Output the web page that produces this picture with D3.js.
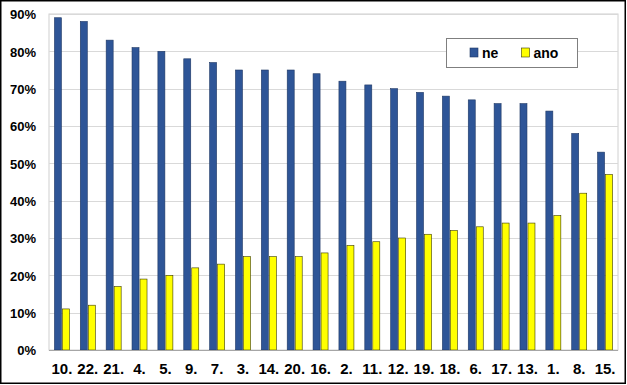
<!DOCTYPE html>
<html>
<head>
<meta charset="utf-8">
<script src="https://cdn.jsdelivr.net/npm/d3@7"></script>
<style>
body { margin: 0; background: #fff; }
text { font-family: "Liberation Sans", Arial, sans-serif; font-weight: bold; fill: #000; }
</style>
</head>
<body>
<script>
var width = 627, height = 385;

var categories = ["10.", "22.", "21.", "4.", "5.", "9.", "7.", "3.", "14.", "20.", "16.",
  "2.", "11.", "12.", "19.", "18.", "6.", "17.", "13.", "1.", "8.", "15."];
var ne  = [89, 88, 83, 81, 80, 78, 77, 75, 75, 75, 74, 72, 71, 70, 69, 68, 67, 66, 66, 64, 58, 53];
var ano = [11, 12, 17, 19, 20, 22, 23, 25, 25, 25, 26, 28, 29, 30, 31, 32, 33, 34, 34, 36, 42, 47];
var yTicks = [0, 10, 20, 30, 40, 50, 60, 70, 80, 90];
var seriesNames = ["ne", "ano"];
var colors = {ne: "#2E5597", ano: "#FFFF00"};
var strokes = {ne: "#1F3864", ano: "#3a3a00"};

var svg = d3.select("body").append("svg")
    .attr("width", width)
    .attr("height", height);

// outer frame
svg.append("rect")
    .attr("x", 0.75).attr("y", 0.75)
    .attr("width", width - 2.5).attr("height", height - 2.5)
    .attr("fill", "#fff")
    .attr("stroke", "#000").attr("stroke-width", 1.5);

var plotL = 49, plotR = 618, plotT = 14, plotB = 350;

var x = d3.scaleBand().domain(categories).range([plotL, plotR]).paddingInner(0).paddingOuter(0);
var y = d3.scaleLinear().domain([0, 90]).range([plotB, plotT]);
var bw = 7, gap = 0.5;

// plot area border
svg.append("rect")
    .attr("x", plotL).attr("y", plotT)
    .attr("width", plotR - plotL).attr("height", plotB - plotT)
    .attr("fill", "none").attr("stroke", "#d0d0d0");

// gridlines
svg.append("g").selectAll("line")
    .data(yTicks.slice(1))
    .join("line")
    .attr("x1", plotL).attr("x2", plotR)
    .attr("y1", d => Math.round(y(d)) + 0.5).attr("y2", d => Math.round(y(d)) + 0.5)
    .attr("stroke", "#d9d9d9");

// y axis
var yAxis = svg.append("g")
    .attr("transform", "translate(" + plotL + ",0)")
    .call(d3.axisLeft(y).tickValues(yTicks).tickSize(0).tickPadding(13).tickFormat(d => d + "%"));
yAxis.select(".domain").remove();
yAxis.selectAll("text").style("font-size", "13px").attr("dy", "0.36em");

// bars
var groups = svg.append("g").selectAll("g")
    .data(categories)
    .join("g")
    .attr("transform", d => "translate(" + (x(d) + x.bandwidth() / 2) + ",0)");

groups.append("rect")
    .attr("x", -bw - gap)
    .attr("y", (d, i) => y(ne[i]))
    .attr("width", bw)
    .attr("height", (d, i) => plotB - y(ne[i]))
    .attr("fill", colors.ne)
    .attr("stroke", strokes.ne).attr("stroke-width", 0.6);

groups.append("rect")
    .attr("x", gap)
    .attr("y", (d, i) => y(ano[i]))
    .attr("width", bw)
    .attr("height", (d, i) => plotB - y(ano[i]))
    .attr("fill", colors.ano)
    .attr("stroke", strokes.ano).attr("stroke-width", 0.6);

// baseline
svg.append("line")
    .attr("x1", plotL).attr("x2", plotR)
    .attr("y1", plotB + 0.5).attr("y2", plotB + 0.5)
    .attr("stroke", "#a6a6a6");

// x axis labels
var xAxis = svg.append("g")
    .attr("transform", "translate(0," + plotB + ")")
    .call(d3.axisBottom(x).tickSize(0).tickPadding(13));
xAxis.select(".domain").remove();
xAxis.selectAll("text").style("font-size", "15px");

// legend
var legend = svg.append("g");
legend.append("rect")
    .attr("x", 446.5).attr("y", 38.5)
    .attr("width", 131).attr("height", 29)
    .attr("fill", "#fff").attr("stroke", "#7f7f7f");

var items = legend.selectAll("g.item")
    .data(seriesNames)
    .join("g")
    .attr("class", "item")
    .attr("transform", (d, i) => "translate(" + (i === 0 ? 470 : 521.5) + ",48)");
items.append("rect")
    .attr("width", 8).attr("height", 9)
    .attr("fill", d => colors[d])
    .attr("stroke", d => strokes[d]).attr("stroke-width", 0.6);
items.append("text")
    .attr("x", 12).attr("y", 9.5)
    .style("font-size", "14px")
    .text(d => d);
</script>
</body>
</html>
